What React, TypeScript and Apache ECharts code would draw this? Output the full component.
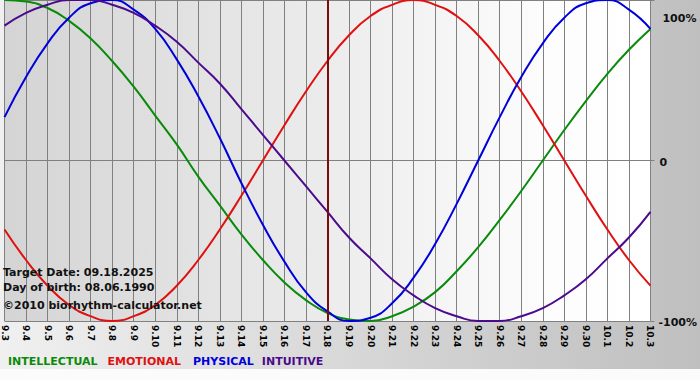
import React, { useEffect, useRef } from "react";
import * as echarts from "echarts";

const days = [
  "9.3", "9.4", "9.5", "9.6", "9.7", "9.8", "9.9", "9.10", "9.11", "9.12",
  "9.13", "9.14", "9.15", "9.16", "9.17", "9.18", "9.19", "9.20", "9.21", "9.22",
  "9.23", "9.24", "9.25", "9.26", "9.27", "9.28", "9.29", "9.30", "10.1", "10.2", "10.3",
];

const intellectual = [100, 99, 95, 87, 76, 62, 46, 28, 10, -10, -28, -46, -62, -76, -87, -95, -99, -100, -97, -91, -82, -69, -54, -37, -19, 0, 19, 37, 54, 69, 82];
const emotional = [-43, -62, -78, -90, -97, -100, -97, -90, -78, -62, -43, -22, 0, 22, 43, 62, 78, 90, 97, 100, 97, 90, 78, 62, 43, 22, 0, -22, -43, -62, -78];
const physical = [27, 52, 73, 89, 98, 100, 94, 82, 63, 40, 14, -14, -40, -63, -82, -94, -100, -98, -89, -73, -52, -27, 0, 27, 52, 73, 89, 98, 100, 94, 82];
const intuitive = [84, 92, 97, 100, 100, 97, 92, 84, 74, 61, 48, 32, 16, 0, -16, -32, -48, -61, -74, -84, -92, -97, -100, -100, -97, -92, -84, -74, -61, -48, -32];

const targetDay = "9.18";
const infoLines = ["Target Date: 09.18.2025", "Day of birth: 08.06.1990"];
const copyright = "\u00a92010 biorhythm-calculator.net";

const FONT = "DejaVu Sans";

const colors = {
  intellectual: "#0a8a0a",
  emotional: "#e01010",
  physical: "#0000dc",
  intuitive: "#4b0a8c",
};

export default function App() {
  const ref = useRef<HTMLDivElement>(null);

  useEffect(() => {
    document.body.style.margin = "0";
    const chart = echarts.init(ref.current!, null, { renderer: "svg" });
    const lineSeries = (name: string, data: number[], color: string, extra: any = {}) => ({
      name,
      type: "line",
      data,
      smooth: 0.5,
      symbol: "none",
      lineStyle: { color, width: 2 },
      ...extra,
    });
    const legendFont = `bold 11px "${FONT}"`;
    chart.setOption({
      animation: false,
      grid: {
        left: 0,
        top: 0,
        right: 49,
        bottom: 59,
        show: true,
        borderWidth: 0,
        backgroundColor: {
          type: "linear",
          x: 0, y: 0, x2: 1, y2: 0,
          colorStops: [
            { offset: 0, color: "#d4d4d4" },
            { offset: 0.85, color: "#fdfdfd" },
            { offset: 1, color: "#ffffff" },
          ],
        },
      },
      graphic: [
        {
          type: "rect",
          z: -10,
          silent: true,
          shape: { x: 0, y: 0, width: 700, height: 380 },
          style: {
            fill: {
              type: "linear",
              x: 0, y: 0, x2: 1, y2: 0,
              colorStops: [
                { offset: 0, color: "#f0f0f0" },
                { offset: 1, color: "#bfbfbf" },
              ],
            },
          },
        },
        {
          type: "rect",
          z: -9,
          silent: true,
          shape: { x: 0, y: 369, width: 700, height: 11 },
          style: { fill: "#fbfbfb" },
        },
        {
          type: "text",
          left: 3,
          top: 265,
          z: 10,
          style: {
            text: infoLines.join("\n"),
            font: `bold 11px "${FONT}"`,
            fill: "#111",
            lineHeight: 15,
          },
        },
        {
          type: "text",
          left: 3,
          top: 300,
          z: 10,
          style: {
            text: copyright,
            font: `bold 11px "${FONT}"`,
            fill: "#111",
          },
        },
        {
          type: "text",
          left: 8,
          top: 356,
          style: {
            text: "{g|INTELLECTUAL}{r|EMOTIONAL}{b|PHYSICAL}{p|INTUITIVE}",
            font: legendFont,
            rich: {
              g: { fill: colors.intellectual, font: legendFont, padding: [0, 10, 0, 0] },
              r: { fill: colors.emotional, font: legendFont, padding: [0, 12, 0, 0] },
              b: { fill: colors.physical, font: legendFont, padding: [0, 8, 0, 0] },
              p: { fill: colors.intuitive, font: legendFont },
            },
          },
        },
      ],
      xAxis: {
        type: "category",
        data: days,
        boundaryGap: false,
        axisLine: { show: true, lineStyle: { color: "#808080", width: 1 } },
        axisTick: { show: true, length: 5, interval: 0, lineStyle: { color: "#808080" } },
        splitLine: { show: true, interval: 0, lineStyle: { color: "#808080", width: 1 } },
        axisLabel: {
          interval: 0,
          rotate: -90,
          margin: 4,
          color: "#000",
          fontFamily: FONT,
          fontWeight: "bold",
          fontSize: 9,
        },
      },
      yAxis: {
        type: "value",
        position: "right",
        min: -100,
        max: 100,
        interval: 100,
        axisLine: { show: false },
        axisTick: { show: true, length: 4, lineStyle: { color: "#808080" } },
        splitLine: { show: true, lineStyle: { color: "#808080", width: 1 } },
        axisLabel: {
          margin: 8,
          formatter: (v: number) =>
            v === 100 ? "{t|100%}" : v === 0 ? "{z|0}" : "{m|-100%}",
          rich: {
            t: { fontFamily: FONT, fontWeight: "bold", fontSize: 11, color: "#111", padding: [36, 0, 0, 4] },
            z: { fontFamily: FONT, fontWeight: "bold", fontSize: 11, color: "#111", padding: [4, 0, 0, 1] },
            m: { fontFamily: FONT, fontWeight: "bold", fontSize: 11, color: "#111", padding: [2, 0, 0, 0] },
          },
        },
      },
      series: [
        lineSeries("INTELLECTUAL", intellectual, colors.intellectual, {
          markLine: {
            silent: true,
            symbol: "none",
            label: { show: false },
            lineStyle: { color: "#7a0c0c", width: 2, type: "solid" },
            data: [{ xAxis: targetDay }],
          },
        }),
        lineSeries("EMOTIONAL", emotional, colors.emotional),
        lineSeries("PHYSICAL", physical, colors.physical),
        lineSeries("INTUITIVE", intuitive, colors.intuitive),
      ],
    });
    return () => chart.dispose();
  }, []);

  return <div ref={ref} style={{ width: 700, height: 380 }} />;
}
